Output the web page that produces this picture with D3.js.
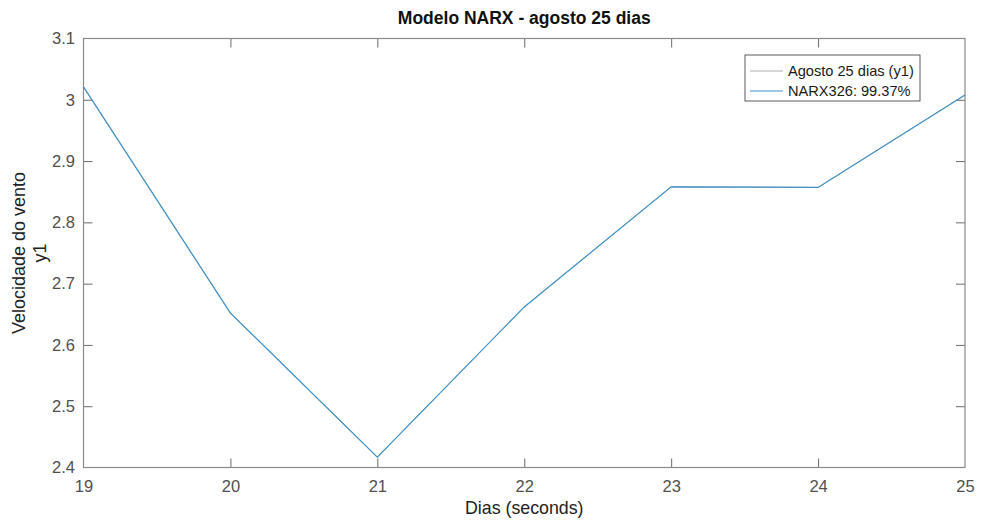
<!DOCTYPE html>
<html>
<head>
<meta charset="utf-8">
<script src="https://cdn.jsdelivr.net/npm/d3@7"></script>
<style>
  body { margin: 0; background: #fff; }
  text { font-family: "Liberation Sans", Arial, sans-serif; }
</style>
</head>
<body>
<script>
// data
const dias = [19, 20, 21, 22, 23, 24, 25];
const medido = [3.021, 2.652, 2.417, 2.662, 2.858, 2.857, 3.008];
const narx = [3.021, 2.652, 2.417, 2.662, 2.858, 2.857, 3.008];
const xTicks = [19, 20, 21, 22, 23, 24, 25];
const yTicks = [2.4, 2.5, 2.6, 2.7, 2.8, 2.9, 3, 3.1];
const legendLabels = ["Agosto 25 dias (y1)", "NARX326: 99.37%"];

const width = 982, height = 527;
const margin = { top: 38.5, right: 17, bottom: 59.5, left: 83.5 };
const iw = width - margin.left - margin.right;
const ih = height - margin.top - margin.bottom;

const svg = d3.select("body").append("svg")
    .attr("width", width)
    .attr("height", height);

const x = d3.scaleLinear().domain([19, 25]).range([0, iw]);
const y = d3.scaleLinear().domain([2.4, 3.1]).range([ih, 0]);

const g = svg.append("g").attr("transform", `translate(${margin.left},${margin.top})`);

const axisColor = "#8a8a8a";
const textColor = "#505050";

// axes with inward ticks, mirrored on top and right like a matlab box
function styleAxis(sel) {
  sel.select(".domain").remove();
  sel.selectAll(".tick line").attr("stroke", "#444").attr("stroke-width", 0.8);
  sel.selectAll(".tick text").attr("fill", textColor).attr("font-size", 16.5);
}

g.append("g").attr("transform", `translate(0,${ih})`)
  .call(d3.axisBottom(x).tickValues(xTicks).tickSizeInner(-9).tickSizeOuter(0).tickPadding(13).tickFormat(d3.format("d")))
  .call(styleAxis);
g.append("g")
  .call(d3.axisTop(x).tickValues(xTicks).tickSizeInner(-9).tickSizeOuter(0).tickFormat(""))
  .call(styleAxis);
g.append("g")
  .call(d3.axisLeft(y).tickValues(yTicks).tickSizeInner(-9).tickSizeOuter(0).tickPadding(8.5).tickFormat(d => d3.format("")(+d.toFixed(1))))
  .call(styleAxis);
g.append("g").attr("transform", `translate(${iw},0)`)
  .call(d3.axisRight(y).tickValues(yTicks).tickSizeInner(-9).tickSizeOuter(0).tickFormat(""))
  .call(styleAxis);

// no tick marks at the corners
g.selectAll(".tick").filter(d => d === 19 || d === 25 || d === 2.4 || d === 3.1)
  .select("line").remove();

g.append("rect")
  .attr("width", iw).attr("height", ih)
  .attr("fill", "none").attr("stroke", axisColor).attr("stroke-width", 1.2);

// series
const line = d3.line().x((d, i) => x(dias[i])).y(d => y(d));
g.append("path").datum(medido)
  .attr("fill", "none").attr("stroke", "#9a9a9a").attr("stroke-width", 0.8)
  .attr("d", line);
g.append("path").datum(narx)
  .attr("fill", "none").attr("stroke", "#4092c9").attr("stroke-width", 1.2)
  .attr("d", line);

// legend
const leg = svg.append("g").attr("transform", "translate(745,55)");
leg.append("rect").attr("width", 175).attr("height", 46)
  .attr("fill", "#fff").attr("stroke", "#333").attr("stroke-width", 0.8);
const legColors = ["#9a9a9a", "#4092c9"];
legendLabels.forEach((t, i) => {
  const ly = 16 + i * 20;
  leg.append("line").attr("x1", 5).attr("x2", 38).attr("y1", ly).attr("y2", ly)
    .attr("stroke", legColors[i]).attr("stroke-width", i ? 1.2 : 0.8);
  leg.append("text").attr("x", 43).attr("y", ly + 5)
    .attr("font-size", 14.6).attr("fill", "#1a1a1a").text(t);
});

// title and labels
svg.append("text")
  .attr("x", margin.left + iw / 2).attr("y", 24)
  .attr("text-anchor", "middle").attr("font-size", 17.5).attr("font-weight", "bold")
  .attr("fill", "#111").text("Modelo NARX - agosto 25 dias");

svg.append("text")
  .attr("x", margin.left + iw / 2).attr("y", 514)
  .attr("text-anchor", "middle").attr("font-size", 17.8).attr("fill", "#222")
  .text("Dias (seconds)");

const yl = svg.append("text")
  .attr("transform", `translate(24.5,${margin.top + ih / 2}) rotate(-90)`)
  .attr("text-anchor", "middle").attr("font-size", 18).attr("fill", "#222");
yl.append("tspan").attr("x", 0).attr("dy", 0).text("Velocidade do vento");
yl.append("tspan").attr("x", 0).attr("dy", 21).text("y1");
</script>
</body>
</html>
